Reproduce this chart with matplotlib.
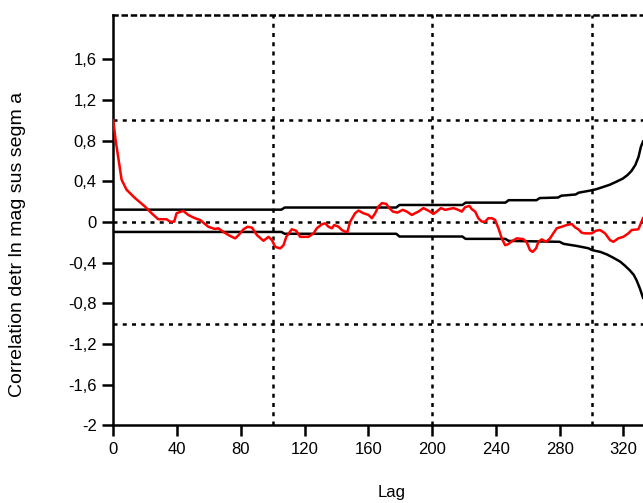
import matplotlib
matplotlib.use("Agg")
import matplotlib.pyplot as plt
from matplotlib.ticker import FuncFormatter

plt.rcParams['font.family'] = ['Liberation Sans', 'DejaVu Sans']

# Sample autocorrelation by lag
red_lag = [0, 1.4, 5.2, 8.3, 13.6, 19.9, 24.0, 28.2, 33.4, 35.5, 38.2, 39.7, 43.9, 47.0,
           51.2, 54.4, 59.6, 63.8, 65.8, 69.2, 72.3, 74.4, 76.5, 78.6, 81.7, 84.2, 87.0,
           90.1, 94.2, 97.4, 99.5, 101.6, 104.7, 106.8, 108.5, 112.0, 114.7, 117.2, 122.4,
           125.6, 127.7, 130.8, 132.9, 135.0, 137.1, 138.6, 141.3, 143.4, 145.5, 146.9,
           148.6, 151.7, 153.8, 156.9, 160.1, 162.2, 164.3, 166.3, 168.5, 171.2, 173.2,
           175.4, 178.2, 181.6, 184.1, 187.3, 189.3, 191.4, 194.5, 196.7, 198.7, 200.8,
           202.9, 205.5, 208.2, 210.2, 213.4, 216.5, 218.6, 220.7, 223.4, 224.9, 227.0,
           229.0, 231.2, 233.2, 235.3, 237.4, 239.5, 241.6, 243.7, 245.8, 247.8, 249.5,
           253.1, 257.2, 259.4, 261.4, 263.1, 265.2, 266.7, 268.8, 271.5, 274.0, 276.0,
           278.2, 281.3, 284.5, 287.6, 289.7, 291.7, 293.9, 295.9, 300.1, 302.8, 305.3,
           308.5, 311.6, 313.7, 316.8, 320.0, 323.1, 325.2, 329.4, 332.3]
red_corr = [1.0, 0.81, 0.416, 0.317, 0.235, 0.151, 0.086, 0.027, 0.027, 0.003, 0.003, 0.086,
            0.109, 0.069, 0.037, 0.02, -0.047, -0.069, -0.062, -0.099, -0.129, -0.146,
            -0.161, -0.129, -0.072, -0.047, -0.056, -0.129, -0.185, -0.146, -0.178, -0.245,
            -0.26, -0.228, -0.146, -0.072, -0.086, -0.146, -0.146, -0.112, -0.062, -0.023,
            -0.013, -0.047, -0.062, -0.030, -0.047, -0.079, -0.096, -0.096, 0.003, 0.086,
            0.112, 0.086, 0.069, 0.037, 0.086, 0.151, 0.185, 0.178, 0.136, 0.102, 0.092,
            0.119, 0.102, 0.069, 0.086, 0.102, 0.136, 0.119, 0.102, 0.079, 0.102, 0.136,
            0.119, 0.126, 0.136, 0.119, 0.102, 0.145, 0.158, 0.126, 0.102, 0.037, 0.003,
            0.003, 0.037, 0.037, 0.020, -0.062, -0.161, -0.228, -0.218, -0.195, -0.161,
            -0.168, -0.201, -0.277, -0.294, -0.260, -0.195, -0.171, -0.195, -0.161, -0.112,
            -0.062, -0.047, -0.030, -0.020, -0.053, -0.072, -0.106, -0.112, -0.112, -0.086,
            -0.079, -0.112, -0.178, -0.195, -0.161, -0.146, -0.112, -0.079, -0.072, 0.037]

# Confidence bounds
upper_lag = [0, 105.5, 107.5, 177.5, 179.5, 219, 221, 246, 248, 265.5, 267.5, 279, 281,
             290, 292, 299, 303, 307.5, 311.5, 315.5, 319.5, 322.5, 325, 327.5, 329.5,
             331, 332.3]
upper = [0.121, 0.121, 0.142, 0.142, 0.167, 0.167, 0.19, 0.19, 0.214, 0.214, 0.235, 0.24,
         0.258, 0.27, 0.288, 0.308, 0.322, 0.345, 0.366, 0.395, 0.425, 0.46, 0.5, 0.56,
         0.64, 0.74, 0.79]
lower_lag = [0, 105.5, 107.5, 177.5, 179.5, 219, 221, 246, 248, 280, 282.5, 290.5, 298,
             300.5, 305.5, 309.5, 313.5, 318, 321, 324, 326.5, 328.3, 330.4, 332.3]
lower = [-0.098, -0.098, -0.116, -0.116, -0.143, -0.143, -0.166, -0.166, -0.186, -0.195,
         -0.215, -0.235, -0.258, -0.277, -0.294, -0.318, -0.35, -0.39, -0.43, -0.475,
         -0.52, -0.574, -0.656, -0.745]

x_ticks = [0, 40, 80, 120, 160, 200, 240, 280, 320]
y_ticks = [-2, -1.6, -1.2, -0.8, -0.4, 0, 0.4, 0.8, 1.2, 1.6]
x_grid = [100, 200, 300]
y_grid = [-1, 0, 1]

fig = plt.figure(figsize=(6.43, 5.03), dpi=100)
ax = fig.add_axes([0.1762, 0.1541, 0.8238, 0.8161])
ax.set_xlim(0, 332.3)
ax.set_ylim(-2, 2.034)

lw = 1.8
dot = (0, (1.6, 2.1))
for gx in x_grid:
    ax.axvline(gx, color='black', lw=lw, ls=dot, zorder=1)
for gy in y_grid:
    ax.axhline(gy, color='black', lw=lw, ls=dot, zorder=1)

ax.plot(upper_lag, upper, color='black', lw=lw, zorder=2)
ax.plot(lower_lag, lower, color='black', lw=lw, zorder=2)
ax.plot(red_lag, red_corr, color='#ff0000', lw=lw, zorder=3)

for side in ['left', 'bottom']:
    ax.spines[side].set_linewidth(1.8)
ax.spines['right'].set_visible(False)
ax.spines['top'].set_linewidth(lw)
ax.spines['top'].set_linestyle(dot)

ax.set_xticks(x_ticks)
ax.set_yticks(y_ticks)


def comma(v, pos):
    return ('%g' % round(v, 2)).replace('.', ',')


ax.xaxis.set_major_formatter(FuncFormatter(comma))
ax.yaxis.set_major_formatter(FuncFormatter(comma))
ax.tick_params(direction='out', length=8, width=1.8, labelsize=12, pad=4)

fig.text(18 / 643, 1 - 244 / 503, 'Correlation detr ln mag sus segm a', rotation=90,
         ha='center', va='center', fontsize=14)
fig.text(392 / 643, 1 - 492 / 503, 'Lag', ha='center', va='center', fontsize=12)

fig.savefig('out.png', dpi=100)
